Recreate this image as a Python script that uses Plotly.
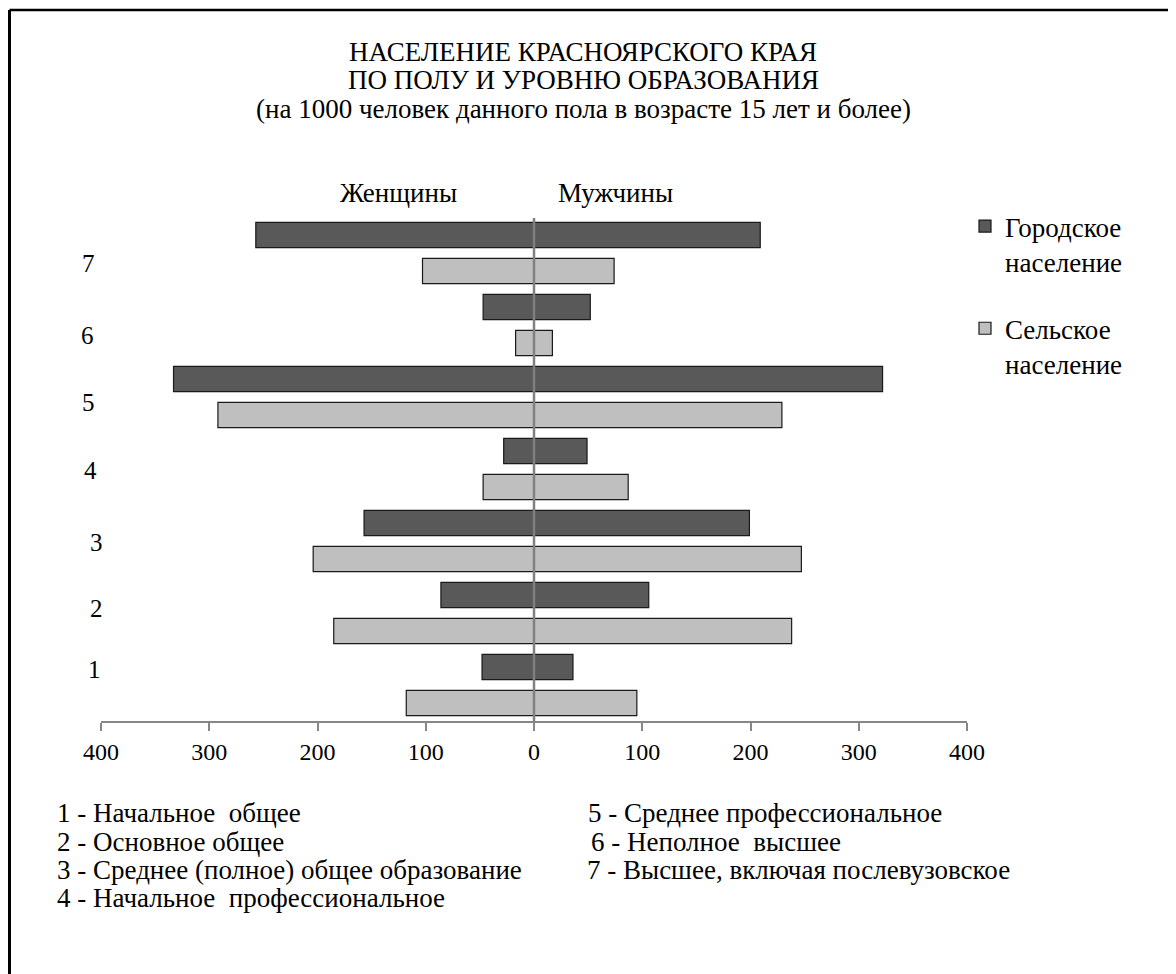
import plotly.graph_objects as go

# ---------------- data ----------------
categories = ["1", "2", "3", "4", "5", "6", "7"]
urban_women = [48, 86, 157, 28, 333, 47, 257]
urban_men = [36, 106, 199, 49, 322, 52, 209]
rural_women = [118, 185, 204, 47, 292, 17, 103]
rural_men = [95, 238, 247, 87, 229, 17, 74]

tick_vals = [-400, -300, -200, -100, 0, 100, 200, 300, 400]
tick_text = ["400", "300", "200", "100", "0", "100", "200", "300", "400"]

title_lines = [
    "НАСЕЛЕНИЕ КРАСНОЯРСКОГО КРАЯ",
    "ПО ПОЛУ И УРОВНЮ ОБРАЗОВАНИЯ",
    "(на 1000 человек данного пола в возрасте 15 лет и более)",
]
side_labels = ["Женщины", "Мужчины"]
series_names = ["Городское<br>население", "Сельское<br>население"]
notes_left = [
    "1 - Начальное  общее",
    "2 - Основное общее",
    "3 - Среднее (полное) общее образование",
    "4 - Начальное  профессиональное",
]
notes_right = [
    "5 - Среднее профессиональное",
    "6 - Неполное  высшее",
    "7 - Высшее, включая послевузовское",
]

# ---------------- layout helpers ----------------
OFF = 8                      # page body margin
W, H = 1176 - OFF, 974 - OFF
L, R, T, B = 101 - OFF, 209, 217 - OFF, 253
PW, PH = W - L - R, H - T - B


def px_x(X):
    return (X - OFF - L) / PW


def px_y(Y):
    return (H - B - (Y - OFF)) / PH


FONT = "Liberation Serif, Times New Roman, DejaVu Serif, serif"
URBAN = "#595959"
RURAL = "#bfbfbf"
EDGE = "#1a1a1a"

fig = go.Figure()

# rural first -> lower bar in each category
fig.add_trace(go.Bar(
    y=categories, x=[-v for v in rural_women], orientation="h",
    offsetgroup="rural", legendgroup="rural", name=series_names[1],
    legendrank=2, showlegend=True,
    marker=dict(color=RURAL, line=dict(color=EDGE, width=1.2)),
))
fig.add_trace(go.Bar(
    y=categories, x=rural_men, orientation="h",
    offsetgroup="rural", legendgroup="rural", name=series_names[1],
    legendrank=2, showlegend=False,
    marker=dict(color=RURAL, line=dict(color=EDGE, width=1.2)),
))
fig.add_trace(go.Bar(
    y=categories, x=[-v for v in urban_women], orientation="h",
    offsetgroup="urban", legendgroup="urban", name=series_names[0],
    legendrank=1, showlegend=True,
    marker=dict(color=URBAN, line=dict(color=EDGE, width=1.2)),
))
fig.add_trace(go.Bar(
    y=categories, x=urban_men, orientation="h",
    offsetgroup="urban", legendgroup="urban", name=series_names[0],
    legendrank=1, showlegend=False,
    marker=dict(color=URBAN, line=dict(color=EDGE, width=1.2)),
))

annotations = []
# title lines
for txt, yc in zip(title_lines, [52, 80, 109]):
    annotations.append(dict(text=txt, xref="paper", yref="paper",
                            x=px_x(583), y=px_y(yc), xanchor="center", yanchor="middle",
                            showarrow=False, font=dict(size=27)))
# side labels
for txt, xc in zip(side_labels, [398, 615]):
    annotations.append(dict(text=txt, xref="paper", yref="paper",
                            x=px_x(xc), y=px_y(193), xanchor="center", yanchor="middle",
                            showarrow=False, font=dict(size=27)))
# category labels (placed slightly irregularly as in the original)
label_x = [94, 96, 96, 90, 88, 87, 88]
label_shift = [16, 5, -1, -1, -5, -10, -10]
for i, (c, lx, sh) in enumerate(zip(categories, label_x, label_shift)):
    annotations.append(dict(text=c, xref="paper", yref="y",
                            x=px_x(lx), y=i, yshift=sh, xanchor="center", yanchor="middle",
                            showarrow=False, font=dict(size=25)))
# notes
for txt, yc in zip(notes_left, [813, 842, 870, 898]):
    annotations.append(dict(text=txt, xref="paper", yref="paper",
                            x=px_x(55), y=px_y(yc), xanchor="left", yanchor="middle",
                            showarrow=False, font=dict(size=27)))
for txt, yc, xs in zip(notes_right, [813, 842, 870], [586, 589, 585]):
    annotations.append(dict(text=txt, xref="paper", yref="paper",
                            x=px_x(xs), y=px_y(yc), xanchor="left", yanchor="middle",
                            showarrow=False, font=dict(size=27)))

shapes = [
    # vertical zero line over the bars
    dict(type="line", xref="x", yref="paper", x0=0, x1=0, y0=0, y1=px_y(218),
         line=dict(color="#808080", width=2.5), layer="above"),
    # frame (top and left edges visible)
    dict(type="line", xref="paper", yref="paper", x0=px_x(OFF + 1.5), x1=px_x(1176),
         y0=px_y(10), y1=px_y(10), line=dict(color="black", width=2.5), layer="above"),
    dict(type="line", xref="paper", yref="paper", x0=px_x(OFF + 1.5), x1=px_x(OFF + 1.5),
         y0=px_y(10), y1=px_y(974), line=dict(color="black", width=3), layer="above"),
]

fig.update_layout(
    width=W, height=H,
    margin=dict(l=L, r=R, t=T, b=B, autoexpand=False),
    paper_bgcolor="white", plot_bgcolor="white",
    font=dict(family=FONT, size=24, color="black"),
    barmode="group", bargap=0, bargroupgap=0.3,
    showlegend=True,
    legend=dict(x=px_x(965), y=px_y(202), xanchor="left", yanchor="top",
                traceorder="grouped", tracegroupgap=29, valign="top",
                font=dict(size=27), bgcolor="rgba(0,0,0,0)"),
    xaxis=dict(range=[-400, 400], autorange=False, tickvals=tick_vals, ticktext=tick_text,
               showgrid=False, zeroline=False, showline=True,
               linecolor="#868686", linewidth=1.5, ticks="outside", ticklen=8,
               tickcolor="#868686", tickwidth=1.5, tickfont=dict(size=24)),
    yaxis=dict(range=[-0.5, 6.5], autorange=False, showticklabels=False,
               showgrid=False, zeroline=False, showline=False, ticks=""),
    annotations=annotations,
    shapes=shapes,
)

fig.write_html("out.html")
